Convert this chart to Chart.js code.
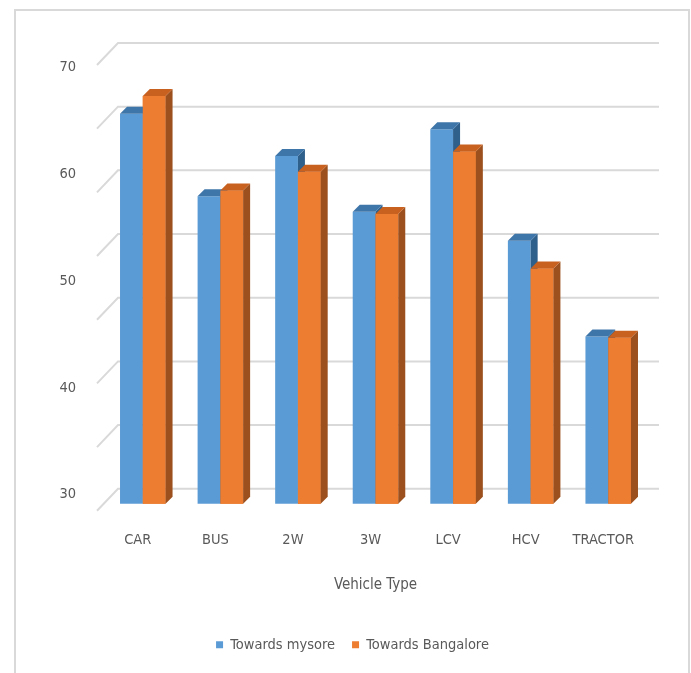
<!DOCTYPE html>
<html>
<head>
<meta charset="utf-8">
<script src="https://cdn.jsdelivr.net/npm/chart.js@4"></script>
<style>
  body { margin: 0; background: #fff; }
  #wrap { position: relative; width: 691px; height: 673px; overflow: hidden; }
  #frame { position: absolute; left: 14px; top: 9px; width: 672px; height: 700px; border: 2px solid #d9d9d9; pointer-events: none; }
  canvas { display: block; }
</style>
</head>
<body>
<div id="wrap">
  <canvas id="chart" width="691" height="673"></canvas>
  <div id="frame"></div>
</div>
<script>
  // chart data
  const categories = ['CAR', 'BUS', '2W', '3W', 'LCV', 'HCV', 'TRACTOR'];
  const towardsMysore = [65.0, 57.6, 61.2, 56.2, 63.6, 53.6, 45.0];
  const towardsBangalore = [66.6, 58.1, 59.8, 56.0, 61.6, 51.1, 44.9];
  const yTicks = [30, 40, 50, 60, 70];

  const yMin = 30, yMax = 70;
  const gridCount = 7;      // back wall gridlines split 30..70 into 7 parts
  const depth = 7;          // 3d depth of a bar in px
  const wall = { dx: 14, dy: -15 };  // back wall offset
  const front = { dx: -7, dy: 7 };   // front edge offset

  const fontFamily = "'Liberation Sans Narrow', 'DejaVu Sans Condensed', sans-serif";
  const textColor = '#595959';

  const faceColors = [
    { top: '#3f76a9', side: '#2f5f8b' },
    { top: '#c8601f', side: '#9c501d' }
  ];

  function drawFaces(ctx, bar, colors, bottom) {
    const p = bar.getProps(['x', 'y', 'base', 'width'], true);
    const base = Math.min(p.base, bottom);
    const l = p.x - p.width / 2, r = p.x + p.width / 2;
    // side face
    ctx.fillStyle = colors.side;
    ctx.beginPath();
    ctx.moveTo(r, p.y);
    ctx.lineTo(r + depth, p.y - depth);
    ctx.lineTo(r + depth, base - depth);
    ctx.lineTo(r, base);
    ctx.closePath();
    ctx.fill();
    // top face
    ctx.fillStyle = colors.top;
    ctx.beginPath();
    ctx.moveTo(l, p.y);
    ctx.lineTo(r, p.y);
    ctx.lineTo(r + depth, p.y - depth);
    ctx.lineTo(l + depth, p.y - depth);
    ctx.closePath();
    ctx.fill();
  }

  // back wall gridlines, slanted left wall stubs and the 3d faces of the bars
  const wallPlugin = {
    id: 'wall',
    beforeDatasetsDraw(chart) {
      const { ctx, chartArea, scales } = chart;
      const y = scales.y;
      ctx.save();
      ctx.strokeStyle = '#d9d9d9';
      ctx.lineWidth = 2;
      for (let k = 0; k <= gridCount; k++) {
        const v = yMin + k * (yMax - yMin) / gridCount;
        const py = y.getPixelForValue(v);
        ctx.beginPath();
        ctx.moveTo(chartArea.left + front.dx, py + front.dy);
        ctx.lineTo(chartArea.left + wall.dx, py + wall.dy);
        ctx.lineTo(chartArea.right + 12, py + wall.dy);
        ctx.stroke();
      }
      ctx.restore();
    },
    afterDatasetsDraw(chart) {
      const { ctx, chartArea } = chart;
      const blue = chart.getDatasetMeta(0).data;
      const orange = chart.getDatasetMeta(1).data;
      blue.forEach((bar, i) => {
        ctx.save();
        drawFaces(ctx, bar, faceColors[0], chartArea.bottom);
        // orange front sits in front of the blue side face
        ctx.save();
        ctx.beginPath();
        ctx.rect(0, 0, chart.width, chartArea.bottom);
        ctx.clip();
        orange[i].draw(ctx, chartArea);
        ctx.restore();
        drawFaces(ctx, orange[i], faceColors[1], chartArea.bottom);
        ctx.restore();
      });
    }
  };

  const ctx = document.getElementById('chart').getContext('2d');
  const chart = new Chart(ctx, {
    type: 'bar',
    data: {
      labels: categories,
      datasets: [
        { label: 'Towards mysore', data: towardsMysore, backgroundColor: '#5b9bd5', yAxisID: 'y' },
        { label: 'Towards Bangalore', data: towardsBangalore, backgroundColor: '#ed7d31', yAxisID: 'y' }
      ]
    },
    options: {
      responsive: false,
      animation: false,
      layout: { padding: { left: 58, right: 44, top: 58, bottom: 11 } },
      datasets: {
        bar: { categoryPercentage: 0.587, barPercentage: 1, borderWidth: 0 }
      },
      scales: {
        x: {
          grid: { display: false },
          border: { display: false },
          ticks: { color: textColor, font: { family: fontFamily, size: 14.5 }, padding: 20, labelOffset: -5 },
          title: {
            display: true,
            text: 'Vehicle Type',
            color: textColor,
            font: { family: fontFamily, size: 15 },
            padding: { top: 4, bottom: 26 }
          },
          afterFit: s => { s.height = 116.75; }
        },
        y: {
          display: false,
          min: yMin,
          max: yMax
        },
        yl: {
          position: 'left',
          min: yMin - 0.85,
          max: yMax + 0.85,
          grid: { display: false },
          border: { display: false },
          afterBuildTicks: s => { s.ticks = yTicks.map(v => ({ value: v })); },
          ticks: { color: textColor, font: { family: fontFamily, size: 14.5 }, padding: 20 },
          afterFit: s => { s.width = 46; }
        }
      },
      plugins: {
        legend: {
          position: 'bottom',
          labels: {
            boxWidth: 7,
            boxHeight: 7,
            padding: 17,
            color: textColor,
            font: { family: fontFamily, size: 14.5 }
          }
        },
        tooltip: { enabled: false }
      }
    },
    plugins: [wallPlugin]
  });
</script>
</body>
</html>
